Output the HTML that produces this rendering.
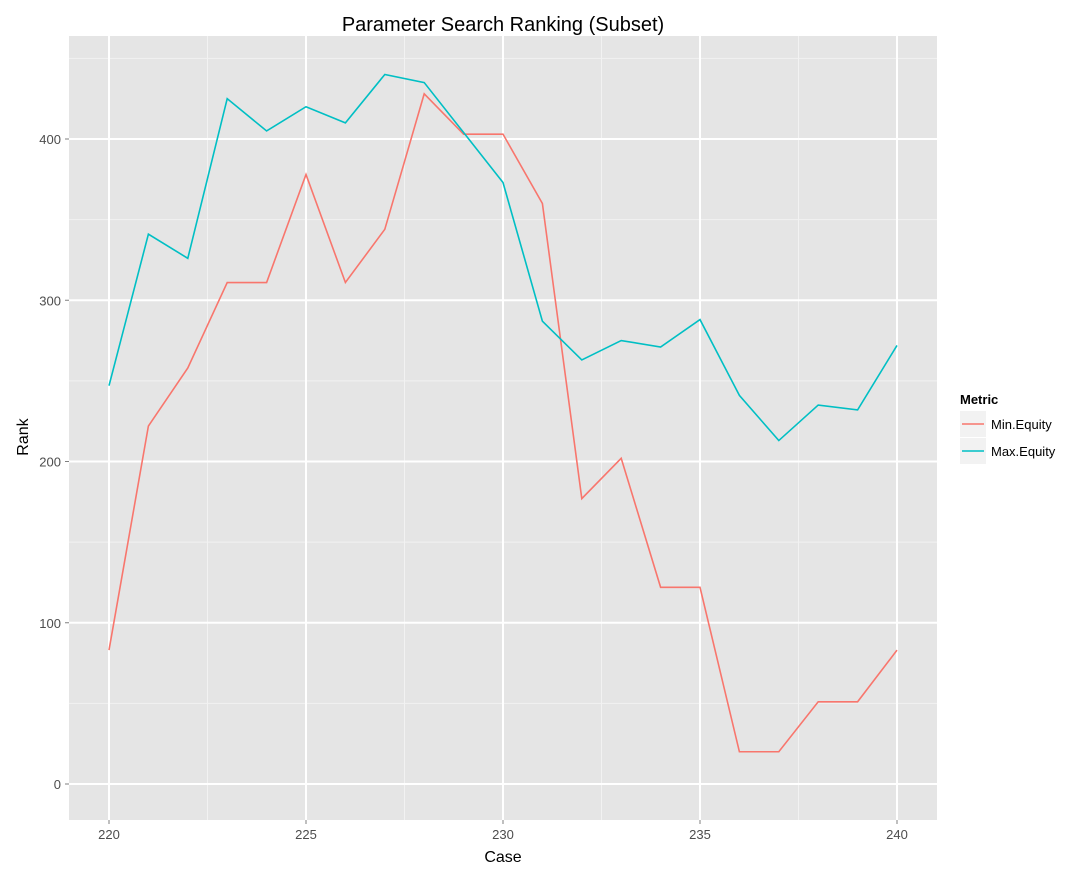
<!DOCTYPE html>
<html><head><meta charset="utf-8"><style>
body{margin:0;background:#fff;}
svg{display:block;font-family:"Liberation Sans",sans-serif;}
</style></head><body>
<svg id="c" width="1086" height="890"></svg>
<script>
const cases=[220,221,222,223,224,225,226,227,228,229,230,231,232,233,234,235,236,237,238,239,240];
const minEquity=[83,222,258,311,311,378,311,344,428,403,403,360,177,202,122,122,20,20,51,51,83];
const maxEquity=[247,341,326,425,405,420,410,440,435,404,373,287,263,275,271,288,241,213,235,232,272];
const xTicks=[220,225,230,235,240];
const yTicks=[0,100,200,300,400];
const L=69,R=937,T=36,B=820;
const xs=v=>109+(v-220)*(897-109)/20;
const ys=v=>784-v*(784-139)/400;
const svg=document.getElementById('c');
const NS='http://www.w3.org/2000/svg';
function mk(t,a,p){const e=document.createElementNS(NS,t);for(const k in a)e.setAttribute(k,a[k]);(p||svg).appendChild(e);return e;}
let e;
e=mk('rect',{x:L,y:T,width:R-L,height:B-T,fill:'#e5e5e5'});


for(let i=0;i<xTicks.length-1;i++){const v=(xTicks[i]+xTicks[i+1])/2;e=mk('line',{x1:xs(v),x2:xs(v),y1:T,y2:B,stroke:'#f2f2f2','stroke-width':1});

}
for(let v=-50;v<=450;v+=100){if(ys(v)<T||ys(v)>B)continue;e=mk('line',{x1:L,x2:R,y1:ys(v),y2:ys(v),stroke:'#f2f2f2','stroke-width':1});

}
xTicks.forEach(v=>{e=mk('line',{x1:xs(v),x2:xs(v),y1:T,y2:B,stroke:'#fff','stroke-width':2});


e=mk('line',{x1:xs(v),x2:xs(v),y1:B,y2:B+4,stroke:'#7f7f7f'});


e=mk('text',{x:xs(v),y:B+19,'text-anchor':'middle','font-size':13,fill:'#4d4d4d'});e.textContent=v;

});
yTicks.forEach(v=>{e=mk('line',{x1:L,x2:R,y1:ys(v),y2:ys(v),stroke:'#fff','stroke-width':2});


e=mk('line',{x1:L-4,x2:L,y1:ys(v),y2:ys(v),stroke:'#7f7f7f'});


e=mk('text',{x:L-8,y:ys(v)+5,'text-anchor':'end','font-size':13,fill:'#4d4d4d'});e.textContent=v;

});
function line(vals,col,name){const d=vals.map((v,i)=>(i?'L':'M')+xs(cases[i])+','+ys(v)).join(' ');
const p=mk('path',{d:d,fill:'none',stroke:col,'stroke-width':1.6});

}
line(minEquity,'#F8766D','min-equity-line');
line(maxEquity,'#00BFC4','max-equity-line');
e=mk('text',{x:503,y:31,'text-anchor':'middle','font-size':20,fill:'#000'});e.textContent='Parameter Search Ranking (Subset)';


e=mk('text',{x:503,y:862,'text-anchor':'middle','font-size':16,fill:'#000'});e.textContent='Case';


e=mk('text',{x:28,y:437,'text-anchor':'middle','font-size':16,fill:'#000',transform:'rotate(-90 28 437)'});e.textContent='Rank';


e=mk('text',{x:960,y:404,'font-size':13,'font-weight':'bold',fill:'#000'});e.textContent='Metric';


[['Min.Equity','#F8766D',411],['Max.Equity','#00BFC4',438]].forEach(([n,c,y])=>{
const g=mk('g',{});


mk('rect',{x:960,y:y,width:26,height:26,fill:'#f2f2f2'},g);
mk('line',{x1:962,x2:984,y1:y+13,y2:y+13,stroke:c,'stroke-width':1.6},g);
const t=mk('text',{x:991,y:y+18,'font-size':13,fill:'#000'},g);t.textContent=n;});
</script>
</body></html>
